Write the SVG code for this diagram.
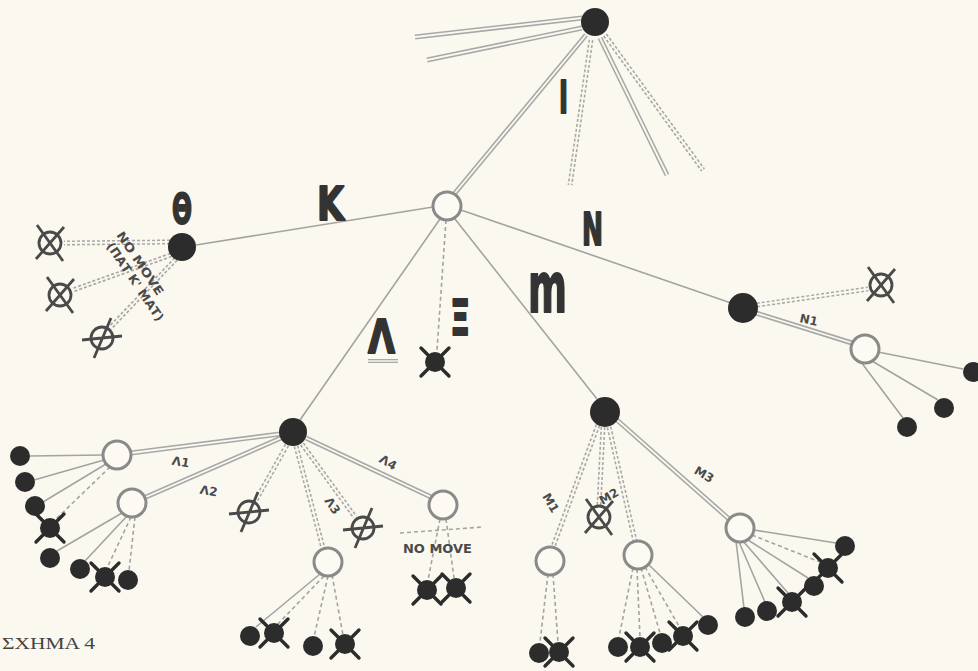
<svg xmlns="http://www.w3.org/2000/svg" xmlns:xlink="http://www.w3.org/1999/xlink" width="978" height="671" viewBox="0 0 978 671">
<style>
.bg{fill:#fbf9ef}
.sl{fill:none;stroke:#a3a3a3;stroke-width:1.6}
.sd{fill:none;stroke:#a3a3a3;stroke-width:1.6;stroke-dasharray:4 3}
.dbo{fill:none;stroke:#a8a8a8;stroke-width:5}
.dbdo{fill:none;stroke:#a8a8a8;stroke-width:5;stroke-dasharray:3 2}
.dbi{fill:none;stroke:#fbf9ef;stroke-width:1.8}
.blk{fill:#2c2c2c}
.opn{fill:#fcfaf2;stroke:#8a8a8a;stroke-width:3}
.spoke{stroke:#2c2c2c;stroke-width:3.4;stroke-linecap:round}
.xm{fill:none;stroke:#4a4a4a;stroke-width:2.8}
.big{font-family:"DejaVu Sans",sans-serif;font-weight:bold;fill:#333;stroke:#333;stroke-width:2;stroke-linejoin:round}
.sm{font-family:"DejaVu Sans",sans-serif;font-weight:bold;font-size:12px;fill:#4a4a4a}
.cap{font-family:"Liberation Serif",serif;font-size:17px;fill:#444}
</style>
<defs>
<circle id="dot" r="10" class="blk"/>
<g id="spk"><path d="M-14,-14 L14,14 M-14,14 L14,-14" class="spoke"/><circle r="10" class="blk"/></g>
<circle id="opc" r="14" class="opn"/>
<g id="xc"><circle r="11" class="xm"/><path d="M-13,-18 L13,18 M-14,16 L14,-16" class="xm"/></g>
<g id="sc"><circle r="11" class="xm"/><path d="M-20,2 L20,-2 M-8,20 L9,-20" class="xm"/></g>
<path id="t1" d="M582,18 L415,37"/>
<path id="t2" d="M582,28 L427,60"/>
<path id="t3" d="M586,35 L455,193"/>
<path id="t4" d="M591,40 L570,185"/>
<path id="t5" d="M600,38 L667,175"/>
<path id="t6" d="M605,35 L703,170"/>
<path id="n1" d="M756,313 L852,343"/>
<path id="nx" d="M757,305 L868,289"/>
<path id="l1" d="M280,434 L131,453"/>
<path id="l2" d="M281,438 L146,497"/>
<path id="l3" d="M287,445 L256,500"/>
<path id="l4" d="M296,446 L323,548"/>
<path id="l5" d="M302,444 L355,517"/>
<path id="l6" d="M306,438 L431,497"/>
<path id="th1" d="M170,242 L64,243"/>
<path id="th2" d="M171,255 L73,290"/>
<path id="th3" d="M176,259 L110,328"/>
<path id="m1" d="M598,425 L553,547"/>
<path id="m2" d="M603,427 L599,505"/>
<path id="m3" d="M609,427 L635,541"/>
<path id="m4" d="M617,420 L729,519"/>
<path id="ul" d="M368,361 L398,361"/>
</defs>
<rect class="bg" x="0" y="0" width="978" height="671"/>

<g id="connectors">
<path class="sl" d="M196,245 L433,207"/>
<path class="sl" d="M440,219 L300,420"/>
<path class="sd" d="M446,220 L437,350"/>
<path class="sl" d="M455,219 L597,399"/>
<path class="sl" d="M461,210 L731,303"/>
<g class="dbo">
<use xlink:href="#t1"/><use xlink:href="#t2"/><use xlink:href="#t3"/><use xlink:href="#t5"/>
<use xlink:href="#n1"/><use xlink:href="#l1"/><use xlink:href="#l2"/><use xlink:href="#l6"/><use xlink:href="#m4"/>
</g>
<g class="dbdo">
<use xlink:href="#t4"/><use xlink:href="#t6"/><use xlink:href="#nx"/>
<use xlink:href="#l3"/><use xlink:href="#l4"/><use xlink:href="#l5"/>
<use xlink:href="#th1"/><use xlink:href="#th2"/><use xlink:href="#th3"/>
<use xlink:href="#m1"/><use xlink:href="#m2"/><use xlink:href="#m3"/>
</g>
<g class="dbi">
<use xlink:href="#t1"/><use xlink:href="#t2"/><use xlink:href="#t3"/><use xlink:href="#t5"/>
<use xlink:href="#n1"/><use xlink:href="#l1"/><use xlink:href="#l2"/><use xlink:href="#l6"/><use xlink:href="#m4"/>
<use xlink:href="#t4"/><use xlink:href="#t6"/><use xlink:href="#nx"/>
<use xlink:href="#l3"/><use xlink:href="#l4"/><use xlink:href="#l5"/>
<use xlink:href="#th1"/><use xlink:href="#th2"/><use xlink:href="#th3"/>
<use xlink:href="#m1"/><use xlink:href="#m2"/><use xlink:href="#m3"/>
</g>
<path class="sl" d="M878,352 L963,369 M872,361 L938,400 M861,362 L903,418"/>
<path class="sl" d="M103,455 L30,456 M104,460 L34,480 M106,464 L43,502"/>
<path class="sd" d="M110,467 L55,520"/>
<path class="sl" d="M122,513 L57,551 M127,516 L85,561"/>
<path class="sd" d="M131,517 L107,568 M135,517 L129,571"/>
<path class="sl" d="M320,574 L256,627"/>
<path class="sd" d="M324,576 L277,625 M328,576 L314,637 M332,575 L343,635"/>
<path class="sd" d="M440,519 L428,580 M446,519 L454,578 M400,533 L483,527"/>
<path class="sd" d="M548,574 L540,642 M553,574 L558,642"/>
<path class="sd" d="M633,568 L619,637 M637,569 L640,637 M641,568 L660,633 M645,567 L680,628"/>
<path class="sl" d="M649,565 L703,617"/>
<path class="sl" d="M754,530 L836,543 M748,540 L808,578 M743,541 L788,593 M739,542 L765,602 M736,541 L744,608"/>
<path class="sd" d="M752,535 L820,562"/>
<use xlink:href="#ul" class="dbo" style="stroke-width:4"/>
<use xlink:href="#ul" class="dbi" style="stroke-width:1.4"/>
</g>

<g id="node-top"><circle cx="595" cy="22" r="14" class="blk"/></g>
<g id="node-K"><circle cx="447" cy="206" r="14" class="opn"/></g>
<g id="node-theta"><circle cx="182" cy="247" r="14" class="blk"/></g>
<g id="node-lambda"><circle cx="293" cy="432" r="14" class="blk"/></g>
<g id="node-xi"><use xlink:href="#spk" x="435" y="362"/></g>
<g id="node-M"><circle cx="605" cy="412" r="15" class="blk"/></g>
<g id="node-N"><circle cx="743" cy="308" r="15" class="blk"/></g>

<g id="theta-x1"><use xlink:href="#xc" x="50" y="243"/></g>
<g id="theta-x2"><use xlink:href="#xc" x="60" y="295"/></g>
<g id="theta-x3"><use xlink:href="#sc" x="102" y="338"/></g>

<g id="node-N-x"><use xlink:href="#xc" x="881" y="285"/></g>
<g id="node-N1"><use xlink:href="#opc" x="865" y="349"/></g>
<g id="N1-leaves"><use xlink:href="#dot" x="973" y="372"/><use xlink:href="#dot" x="944" y="408"/><use xlink:href="#dot" x="907" y="427"/></g>

<g id="node-L1"><use xlink:href="#opc" x="117" y="455"/></g>
<g id="L1-leaves"><use xlink:href="#dot" x="20" y="456"/><use xlink:href="#dot" x="25" y="482"/><use xlink:href="#dot" x="35" y="506"/><use xlink:href="#spk" x="50" y="528"/></g>
<g id="node-L2"><use xlink:href="#opc" x="132" y="503"/></g>
<g id="L2-leaves"><use xlink:href="#dot" x="50" y="558"/><use xlink:href="#dot" x="80" y="569"/><use xlink:href="#spk" x="105" y="577"/><use xlink:href="#dot" x="128" y="580"/></g>
<g id="L-x"><use xlink:href="#sc" x="249" y="512"/></g>
<g id="node-L3"><use xlink:href="#opc" x="328" y="562"/></g>
<g id="L3-leaves"><use xlink:href="#dot" x="250" y="636"/><use xlink:href="#spk" x="274" y="633"/><use xlink:href="#dot" x="313" y="646"/><use xlink:href="#spk" x="345" y="644"/></g>
<g id="L-x2"><use xlink:href="#sc" x="363" y="528"/></g>
<g id="node-L4"><use xlink:href="#opc" x="443" y="505"/></g>
<g id="L4-leaves"><use xlink:href="#spk" x="427" y="590"/><use xlink:href="#spk" x="456" y="588"/></g>

<g id="node-M1"><use xlink:href="#opc" x="550" y="561"/></g>
<g id="M1-leaves"><use xlink:href="#dot" x="539" y="653"/><use xlink:href="#spk" x="559" y="652"/></g>
<g id="M-x"><use xlink:href="#xc" x="599" y="517"/></g>
<g id="node-M2"><use xlink:href="#opc" x="638" y="555"/></g>
<g id="M2-leaves"><use xlink:href="#dot" x="618" y="647"/><use xlink:href="#spk" x="640" y="647"/><use xlink:href="#dot" x="662" y="643"/><use xlink:href="#spk" x="683" y="636"/><use xlink:href="#dot" x="708" y="625"/></g>
<g id="node-M3"><use xlink:href="#opc" x="740" y="528"/></g>
<g id="M3-leaves"><use xlink:href="#dot" x="845" y="546"/><use xlink:href="#spk" x="828" y="568"/><use xlink:href="#dot" x="814" y="586"/><use xlink:href="#spk" x="792" y="602"/><use xlink:href="#dot" x="767" y="611"/><use xlink:href="#dot" x="745" y="617"/></g>

<g id="labels">
<text class="big" x="559" y="113" font-size="44" textLength="9" lengthAdjust="spacingAndGlyphs">I</text>
<text class="big" x="317" y="220" font-size="46" textLength="27" lengthAdjust="spacingAndGlyphs">K</text>
<text class="big" x="172" y="223" font-size="40" textLength="20" lengthAdjust="spacingAndGlyphs">Θ</text>
<text class="big" x="368" y="353" font-size="46" textLength="27" lengthAdjust="spacingAndGlyphs">Λ</text>
<text class="big" x="450" y="335" font-size="50" textLength="20" lengthAdjust="spacingAndGlyphs">Ξ</text>
<text class="big" x="528" y="312" font-size="70" textLength="39" lengthAdjust="spacingAndGlyphs">m</text>
<text class="big" x="582" y="245" font-size="44" textLength="21" lengthAdjust="spacingAndGlyphs">N</text>
<text class="sm" transform="translate(180,466) rotate(10)" text-anchor="middle">Λ1</text>
<text class="sm" transform="translate(208,495) rotate(10)" text-anchor="middle">Λ2</text>
<text class="sm" transform="translate(329,508) rotate(55)" text-anchor="middle">Λ3</text>
<text class="sm" transform="translate(386,466) rotate(30)" text-anchor="middle">Λ4</text>
<text class="sm" transform="translate(547,505) rotate(60)" text-anchor="middle">M1</text>
<text class="sm" transform="translate(611,500) rotate(-30)" text-anchor="middle">M2</text>
<text class="sm" transform="translate(702,478) rotate(30)" text-anchor="middle">M3</text>
<text class="sm" transform="translate(808,324) rotate(12)" text-anchor="middle">N1</text>
<text class="sm" transform="translate(116,235) rotate(56)" font-size="13" textLength="74" lengthAdjust="spacingAndGlyphs">NO MOVE</text>
<text class="sm" transform="translate(106,246) rotate(56)" font-size="13" textLength="92" lengthAdjust="spacingAndGlyphs">(ΠΑΤ Κ' ΜΑΤ)</text>
<text class="sm" x="403" y="553" font-size="13" textLength="69" lengthAdjust="spacingAndGlyphs">NO MOVE</text>
<text class="cap" x="2" y="649" textLength="93" lengthAdjust="spacingAndGlyphs">ΣΧΗΜΑ 4</text>
</g>
</svg>
